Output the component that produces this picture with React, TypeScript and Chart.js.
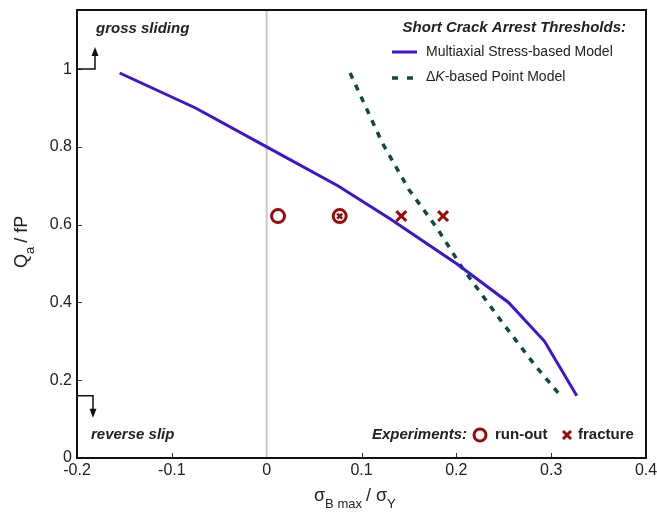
import React, { useEffect, useRef } from "react";
import { Chart, registerables } from "chart.js";

Chart.register(...registerables);

const multiaxialX = [-0.155, -0.075, 0, 0.075, 0.13, 0.2, 0.255, 0.293, 0.327];
const multiaxialY = [0.99, 0.9, 0.8, 0.7, 0.615, 0.5, 0.4, 0.3, 0.16];
const deltaKX = [0.088, 0.122, 0.15, 0.18, 0.206, 0.248, 0.284, 0.31];
const deltaKY = [0.99, 0.81, 0.69, 0.59, 0.49, 0.35, 0.235, 0.16];
const runOutX = [0.012, 0.077];
const runOutY = [0.622, 0.622];
const fractureX = [0.142, 0.186];
const fractureY = [0.622, 0.622];
const bothX = [0.077];
const bothY = [0.622];
const xTicks = [-0.2, -0.1, 0, 0.1, 0.2, 0.3, 0.4];
const yTicks = [0, 0.2, 0.4, 0.6, 0.8, 1];
const grossSlidingY = 1.0;
const reverseSlipY = 0.16;

const BLUE = "#3c14d2";
const TEAL = "#0d4a45";
const RED = "#9b0a0a";
const FONT = "'Liberation Sans', Arial, sans-serif";

const zip = (xs: number[], ys: number[]) => xs.map((x, i) => ({ x, y: ys[i] }));
const fmt = (v: any) => String(+Number(v).toFixed(1));

const decorPlugin = {
  id: "decor",
  beforeDatasetsDraw(chart: any) {
    const { ctx, chartArea: a, scales } = chart;
    const x0 = scales.x.getPixelForValue(0);
    ctx.save();
    ctx.strokeStyle = "#c8c8c8";
    ctx.lineWidth = 2;
    ctx.beginPath();
    ctx.moveTo(x0, a.top);
    ctx.lineTo(x0, a.bottom);
    ctx.stroke();
    ctx.restore();
  },
  afterDraw(chart: any) {
    const { ctx, chartArea: a, scales } = chart;
    const xs = scales.x, ys = scales.y;
    ctx.save();
    // ticks inward
    ctx.strokeStyle = "#333";
    ctx.lineWidth = 1;
    xTicks.forEach((v) => {
      if (v === 0 || v === -0.2 || v === 0.4) return;
      const px = Math.round(xs.getPixelForValue(v)) + 0.5;
      ctx.beginPath();
      ctx.moveTo(px, a.bottom);
      ctx.lineTo(px, a.bottom - 5);
      ctx.stroke();
    });
    yTicks.forEach((v) => {
      if (v === 0) return;
      const py = Math.round(ys.getPixelForValue(v)) + 0.5;
      ctx.beginPath();
      ctx.moveTo(a.left, py);
      ctx.lineTo(a.left + 5, py);
      ctx.stroke();
    });
    // frame
    ctx.strokeStyle = "#111";
    ctx.lineWidth = 2;
    ctx.strokeRect(a.left, a.top, a.right - a.left, a.bottom - a.top);

    // gross sliding arrow
    ctx.strokeStyle = "#111";
    ctx.fillStyle = "#111";
    ctx.lineWidth = 1.5;
    const gy = ys.getPixelForValue(grossSlidingY);
    const gx = a.left + 18;
    ctx.beginPath();
    ctx.moveTo(a.left, gy);
    ctx.lineTo(gx, gy);
    ctx.lineTo(gx, gy - 14);
    ctx.stroke();
    ctx.beginPath();
    ctx.moveTo(gx - 3.5, gy - 13);
    ctx.lineTo(gx + 3.5, gy - 13);
    ctx.lineTo(gx, gy - 22);
    ctx.closePath();
    ctx.fill();
    // reverse slip arrow
    const ry = ys.getPixelForValue(reverseSlipY);
    const rx = a.left + 16;
    ctx.beginPath();
    ctx.moveTo(a.left, ry);
    ctx.lineTo(rx, ry);
    ctx.lineTo(rx, ry + 14);
    ctx.stroke();
    ctx.beginPath();
    ctx.moveTo(rx - 3.5, ry + 13);
    ctx.lineTo(rx + 3.5, ry + 13);
    ctx.lineTo(rx, ry + 22);
    ctx.closePath();
    ctx.fill();

    ctx.textBaseline = "middle";
    ctx.fillStyle = "#222";
    ctx.font = `italic bold 15px ${FONT}`;
    ctx.textAlign = "left";
    ctx.fillText("gross sliding", 96, 29);
    ctx.fillText("reverse slip", 91, 435);

    // top legend
    ctx.textAlign = "right";
    ctx.fillText("Short Crack Arrest Thresholds:", 626, 28);
    ctx.textAlign = "left";
    ctx.strokeStyle = BLUE;
    ctx.lineWidth = 3;
    ctx.beginPath();
    ctx.moveTo(392, 52);
    ctx.lineTo(417, 52);
    ctx.stroke();
    ctx.strokeStyle = TEAL;
    ctx.lineWidth = 3.5;
    ctx.beginPath();
    ctx.moveTo(392, 78);
    ctx.lineTo(398, 78);
    ctx.moveTo(407, 78);
    ctx.lineTo(413, 78);
    ctx.stroke();
    ctx.fillStyle = "#222";
    ctx.font = `14px ${FONT}`;
    ctx.fillText("Multiaxial Stress-based Model", 426, 52);
    ctx.fillText("\u0394", 426, 77);
    let w = ctx.measureText("\u0394").width;
    ctx.font = `italic 14px ${FONT}`;
    ctx.fillText("K", 426 + w, 77);
    w += ctx.measureText("K").width;
    ctx.font = `14px ${FONT}`;
    ctx.fillText("-based Point Model", 426 + w, 77);

    // bottom legend
    ctx.font = `italic bold 15px ${FONT}`;
    ctx.textAlign = "right";
    ctx.fillText("Experiments:", 467, 435);
    ctx.strokeStyle = RED;
    ctx.lineWidth = 3;
    ctx.beginPath();
    ctx.arc(480, 435, 6, 0, Math.PI * 2);
    ctx.stroke();
    ctx.textAlign = "left";
    ctx.font = `bold 15px ${FONT}`;
    ctx.fillText("run-out", 495, 435);
    ctx.beginPath();
    ctx.moveTo(563, 431);
    ctx.lineTo(571, 439);
    ctx.moveTo(571, 431);
    ctx.lineTo(563, 439);
    ctx.stroke();
    ctx.fillText("fracture", 578, 435);

    // x title
    ctx.fillStyle = "#222";
    let tx = 314;
    const ty = 496;
    ctx.font = `18px ${FONT}`;
    ctx.fillText("\u03c3", tx, ty);
    tx += ctx.measureText("\u03c3").width;
    ctx.font = `13px ${FONT}`;
    ctx.fillText("B max", tx, ty + 8);
    tx += ctx.measureText("B max").width + 4;
    ctx.font = `18px ${FONT}`;
    ctx.fillText("/ \u03c3", tx, ty);
    tx += ctx.measureText("/ \u03c3").width;
    ctx.font = `13px ${FONT}`;
    ctx.fillText("Y", tx, ty + 8);

    // y title
    ctx.save();
    ctx.translate(22, 268);
    ctx.rotate(-Math.PI / 2);
    let yx = 0;
    ctx.font = `18px ${FONT}`;
    ctx.fillText("Q", yx, 0);
    yx += ctx.measureText("Q").width;
    ctx.font = `13px ${FONT}`;
    ctx.fillText("a", yx, 8);
    yx += ctx.measureText("a").width + 4;
    ctx.font = `18px ${FONT}`;
    ctx.fillText("/ fP", yx, 0);
    ctx.restore();

    ctx.restore();
  },
};

export default function App() {
  const ref = useRef<HTMLCanvasElement | null>(null);
  useEffect(() => {
    if (!ref.current) return;
    const chart = new Chart(ref.current, {
      type: "scatter",
      data: {
        datasets: [
          {
            label: "Multiaxial Stress-based Model",
            data: zip(multiaxialX, multiaxialY),
            showLine: true,
            borderColor: BLUE,
            borderWidth: 3,
            pointRadius: 0,
            tension: 0,
          },
          {
            label: "\u0394K-based Point Model",
            data: zip(deltaKX, deltaKY),
            showLine: true,
            borderColor: TEAL,
            borderWidth: 3.5,
            borderDash: [6, 7],
            pointRadius: 0,
            tension: 0,
          },
          {
            label: "run-out",
            data: zip(runOutX, runOutY),
            pointStyle: "circle",
            pointRadius: 6.5,
            pointBorderWidth: 3,
            pointBorderColor: RED,
            pointBackgroundColor: "rgba(0,0,0,0)",
          },
          {
            label: "both",
            data: zip(bothX, bothY),
            pointStyle: "crossRot",
            pointRadius: 3.5,
            pointBorderWidth: 2.5,
            pointBorderColor: RED,
          },
          {
            label: "fracture",
            data: zip(fractureX, fractureY),
            pointStyle: "crossRot",
            pointRadius: 7,
            pointBorderWidth: 3,
            pointBorderColor: RED,
          },
        ],
      },
      options: {
        animation: false,
        responsive: false,
        layout: { padding: { top: 10, right: 11, left: 0, bottom: 0 } },
        plugins: { legend: { display: false }, tooltip: { enabled: false } },
        scales: {
          x: {
            type: "linear",
            min: -0.2,
            max: 0.4,
            grid: { display: false, drawTicks: false },
            border: { display: false },
            ticks: {
              stepSize: 0.1,
              includeBounds: false,
              color: "#222",
              font: { family: FONT, size: 16 },
              padding: 3,
              maxRotation: 0,
              callback: fmt,
            },
            afterFit: (s: any) => {
              s.height = 57;
              s.paddingLeft = 0;
              s.paddingRight = 0;
            },
          },
          y: {
            type: "linear",
            min: 0,
            max: 1.152,
            grid: { display: false, drawTicks: false },
            border: { display: false },
            ticks: {
              stepSize: 0.2,
              includeBounds: false,
              color: "#222",
              font: { family: FONT, size: 16 },
              padding: 5,
              callback: fmt,
            },
            afterFit: (s: any) => {
              s.width = 77;
              s.paddingTop = 0;
              s.paddingBottom = 0;
            },
          },
        },
      },
      plugins: [decorPlugin],
    });
    return () => chart.destroy();
  }, []);
  return (
    <div style={{ position: "absolute", left: 0, top: 0, width: 657, height: 515, background: "#fff" }}>
      <canvas ref={ref} width={657} height={515} />
    </div>
  );
}
